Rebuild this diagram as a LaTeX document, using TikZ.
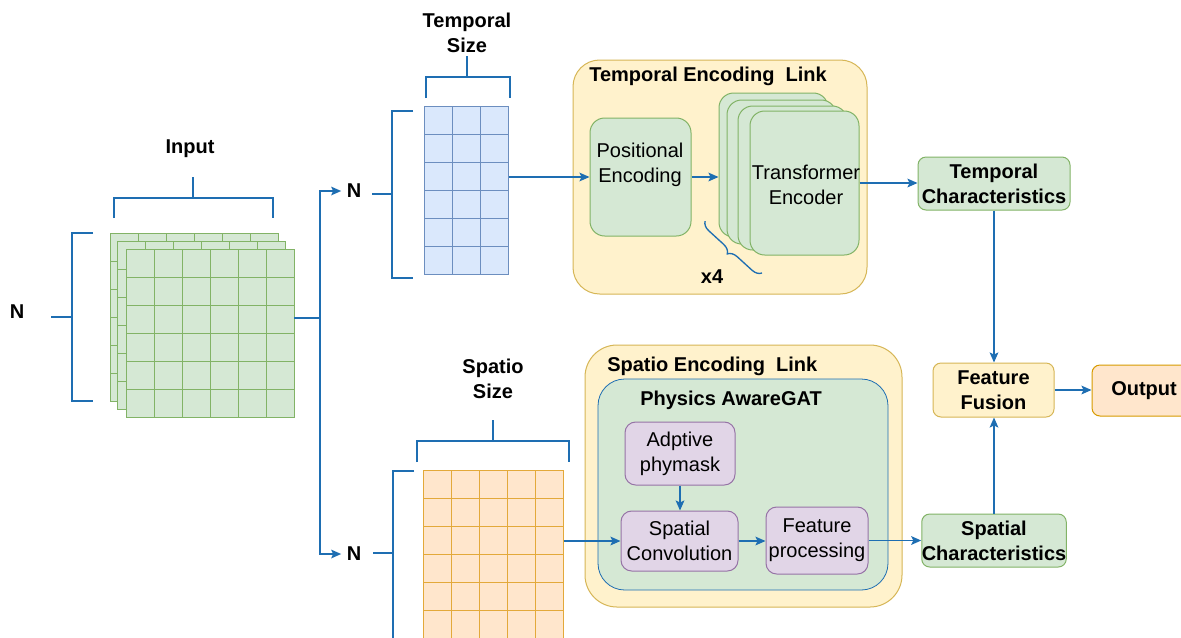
\documentclass[tikz,border=0pt]{standalone}
\usepackage{fontspec}
\setmainfont{Liberation Sans}
\usetikzlibrary{arrows.meta,decorations.pathreplacing}

\definecolor{lineblue}{RGB}{30,110,178}
\definecolor{grnfill}{HTML}{D5E8D4}
\definecolor{grnline}{HTML}{82B366}
\definecolor{bluefill}{HTML}{DAE8FC}
\definecolor{blueline}{HTML}{6C8EBF}
\definecolor{yelfill}{HTML}{FFF2CC}
\definecolor{yelline}{HTML}{D6B656}
\definecolor{orgfill}{HTML}{FFE6CC}
\definecolor{orgline}{HTML}{D79B00}
\definecolor{gridorg}{HTML}{E3A93A}
\definecolor{purfill}{HTML}{E1D5E7}
\definecolor{purline}{HTML}{9673A6}

% box given by its corners in pixel units: name, x1, y1, x2, y2, style, text
\newcommand\pxbox[7]{%
  \node[#6,minimum width={(#4-(#2))*0.75pt},minimum height={(#5-(#3))*0.75pt}]
    (#1) at ({(#2+#4)/2},{(#3+#5)/2}) {#7};}

\tikzset{
  txt/.style={font=\fontsize{15}{18.75}\selectfont, inner sep=0pt, align=center},
  btxt/.style={font=\fontsize{15}{18.75}\selectfont\bfseries, inner sep=0pt, align=center},
  grnbox/.style={txt, draw=grnline, fill=grnfill, line width=0.75pt, rounded corners=#1},
  grnbold/.style={btxt, draw=grnline, fill=grnfill, line width=0.75pt, rounded corners=6pt},
  yelbox/.style={draw=yelline, fill=yelfill, line width=0.75pt, rounded corners=#1},
  purbox/.style={txt, draw=purline, fill=purfill, line width=0.75pt, rounded corners=8pt},
  gatbox/.style={draw=lineblue, fill=grnfill, line width=0.6pt, rounded corners=20pt},
  cellsG/.style={draw=grnline, fill=grnfill, line width=0.75pt},
  cellsB/.style={draw=blueline, fill=bluefill, line width=0.75pt},
  cellsO/.style={draw=gridorg, fill=orgfill, line width=0.75pt},
  gline/.style={draw=grnline, line width=0.75pt},
  bline/.style={draw=blueline, line width=0.75pt},
  oline/.style={draw=gridorg, line width=0.75pt},
  conn/.style={draw=lineblue, line width=1.1pt},
  arr/.style={conn, -{Stealth[length=7.5pt,width=6.5pt,inset=1.5pt]}},
  brk/.style={draw=lineblue, line width=1.5pt},
}

\begin{document}
\begin{tikzpicture}[x=0.75pt,y=-0.75pt]
\clip (0,0) rectangle (1181,637);
\fill[white] (0,0) rectangle (1181,637);

% ---------- input tensor: three stacked 6x6 grids ----------
\pxbox{inback}{110}{233}{278}{401}{cellsG}{}
\foreach \i in {1,...,5} {
  \draw[gline] ({110+28*\i},233) -- ++(0,168);
  \draw[gline] (110,{233+28*\i}) -- ++(168,0);
}
\pxbox{inmid}{117}{241}{285}{409}{cellsG}{}
\foreach \i in {1,...,5} {
  \draw[gline] ({117+28*\i},241) -- ++(0,168);
  \draw[gline] (117,{241+28*\i}) -- ++(168,0);
}
\pxbox{ingrid}{126}{249}{294}{417}{cellsG}{}
\foreach \i in {1,...,5} {
  \draw[gline] ({126+28*\i},249) -- ++(0,168);
  \draw[gline] (126,{249+28*\i}) -- ++(168,0);
}
\node[btxt] (inlab) at (190,149) {Input};
\node[btxt] (nin) at (17,312) {N};
\draw[brk] (114,218) -- (114,198) -- (273,198) -- (273,218);
\draw[brk] (193,198) -- (193,177);
\draw[brk] (93,233) -- (72,233) -- (72,401) -- (93,401);
\draw[brk] (72,317) -- (51,317);

% split into the two branches
\coordinate (inout) at (294,318);
\coordinate (split) at (320,318);
\node[btxt, inner xsep=4pt] (nT) at (354,191) {N};
\node[btxt, inner xsep=4pt] (nS) at (354,554) {N};
\draw[conn] (inout) -- (split);
\draw[arr] (split) |- (nT.west);
\draw[arr] (split) |- (nS.west);

% ---------- temporal branch ----------
\pxbox{tgrid}{424}{106}{508}{274}{cellsB}{}
\foreach \i in {1,2} \draw[bline] ({424+28*\i},106) -- ++(0,168);
\foreach \i in {1,...,5} \draw[bline] (424,{106+28*\i}) -- ++(84,0);
\node[btxt] (tsize) at (467,33) {Temporal\\Size};
\draw[brk] (426,98) -- (426,77) -- (510,77) -- (510,98);
\draw[brk] (467,77) -- (467,56);
\draw[brk] (413,111) -- (392,111) -- (392,278) -- (413,278);
\draw[brk] (392,194) -- (372,194);

\pxbox{tlink}{573}{60}{867}{294}{yelbox=20pt}{}
\node[btxt, anchor=west] (tlinklab) at (589,76) {Temporal Encoding\ \ Link};
\pxbox{pe}{590}{118}{691}{236}{grnbox=11pt}{}
\node[txt] (pelab) at (640,165) {Positional\\Encoding};
\pxbox{tr1}{719}{93}{828}{237}{grnbox=11pt}{}
\pxbox{tr2}{727}{100}{836}{244}{grnbox=11pt}{}
\pxbox{tr3}{738}{106}{847}{250}{grnbox=11pt}{}
\pxbox{tr4}{750}{111}{859}{255}{grnbox=11pt}{}
\node[txt] (trlab) at (806,185) {Transformer\\Encoder};
\draw[lineblue, line width=1pt, decorate, decoration={brace, amplitude=7pt}]
  (762,273) -- (705,221);
\node[btxt] (x4) at (712,277) {x4};

\draw[arr] (pe.west -| tgrid.east) -- (pe.west);
\draw[arr] (pe.east) -- (pe.east -| tr1.west);

\pxbox{tc}{918}{157}{1070}{210}{grnbold}{Temporal\\Characteristics}
\draw[arr] (tr4.east) -- (tr4.east -| tc.west);

% ---------- spatial branch ----------
\pxbox{sgrid}{423}{470}{563}{680}{cellsO}{}
\foreach \i in {1,...,4} \draw[oline] ({423+28*\i},470) -- ++(0,210);
\foreach \i in {1,...,6} \draw[oline] (423,{470+28*\i}) -- ++(140,0);
\node[btxt] (ssize) at (493,379) {Spatio\\Size};
\draw[brk] (417,462) -- (417,441) -- (569,441) -- (569,462);
\draw[brk] (493,441) -- (493,420);
\draw[brk] (414,471) -- (393,471) -- (393,660);
\draw[brk] (393,553) -- (373,553);

\pxbox{slink}{585}{345}{902}{607}{yelbox=24pt}{}
\node[btxt, anchor=west] (slinklab) at (607,366) {Spatio Encoding\ \ Link};
\pxbox{gat}{598}{379}{888}{590}{gatbox}{}
\node[btxt, anchor=west] (gatlab) at (640,400) {Physics AwareGAT};
\pxbox{ap}{625}{422}{735}{485}{purbox}{Adptive\\phymask}
\pxbox{sc}{621}{511}{738}{571}{purbox}{Spatial\\Convolution}
\pxbox{fp}{766}{507}{868}{574}{purbox}{Feature\\processing}

\draw[arr] (sc.west -| sgrid.east) -- (sc.west);
\draw[arr] (ap.south) -- (ap.south |- sc.north);
\draw[arr] (sc.east) -- (sc.east -| fp.west);

\pxbox{spc}{922}{514}{1066}{567}{grnbold}{Spatial\\Characteristics}
\draw[arr] (fp.east) -- (fp.east -| spc.west);

% ---------- fusion and output ----------
\pxbox{ff}{933}{363}{1054}{417}{btxt, yelbox=6pt}{Feature\\Fusion}
\pxbox{out}{1092}{365}{1196}{416}{btxt, draw=orgline, fill=orgfill, line width=0.75pt, rounded corners=6pt}{Output}

\draw[arr] (tc.south) -- (tc.south |- ff.north);
\draw[arr] (spc.north) -- (spc.north |- ff.south);
\draw[arr] (ff.east) -- (ff.east -| out.west);
\end{tikzpicture}
\end{document}
